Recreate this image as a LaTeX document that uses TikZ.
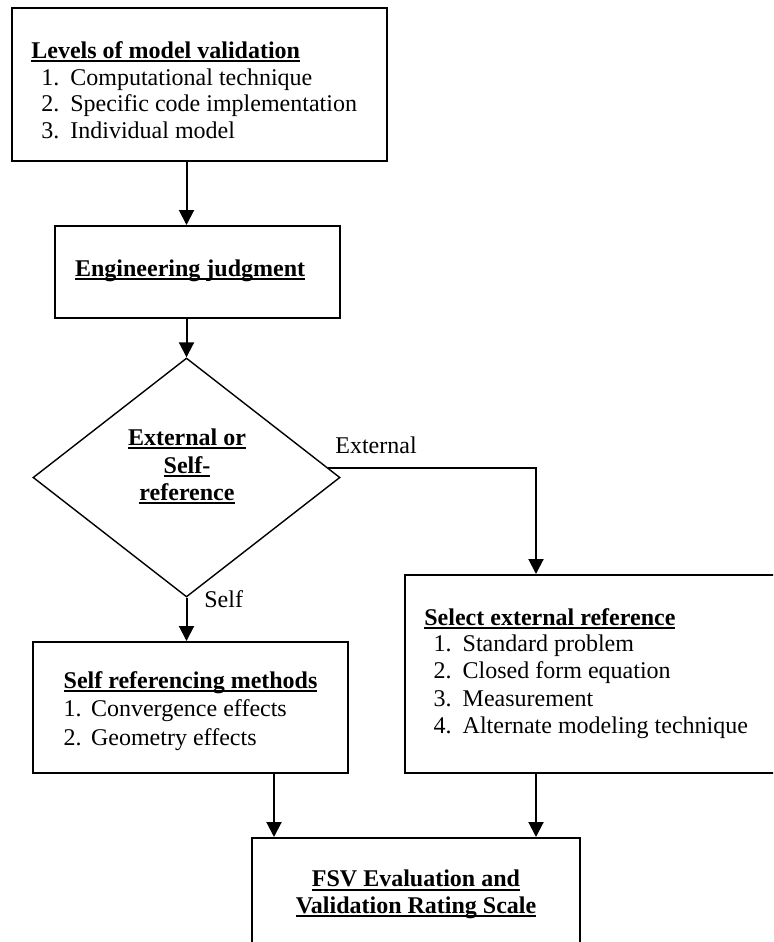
\documentclass[tikz,border=0pt]{standalone}
\usepackage{fontspec}
\setmainfont{Liberation Serif}
\usetikzlibrary{shapes.geometric,arrows.meta,calc}
\newcommand\myul[1]{\setbox0\hbox{\bfseries #1}\rlap{\rule[-1.9pt]{\wd0}{0.9pt}}\box0}
\begin{document}
\begin{tikzpicture}[x=0.5pt,y=-0.5pt,font=\fontsize{12}{14}\selectfont,
  box/.style={draw,line width=1pt,inner sep=0pt,rectangle},
  lbl/.style={inner sep=0pt,anchor=base west},
  ctr/.style={inner sep=0pt,anchor=base},
  arr/.style={line width=1pt,-{Triangle[length=7.5pt,width=7.5pt]}}]
\clip (0,0) rectangle (773,942);
% boxes
\node[box,minimum width=187.5pt,minimum height=76.5pt] (tb) at (199.5,84.5) {};
\node[box,minimum width=142.5pt,minimum height=46pt] (eb) at (197.5,272) {};
\node[draw,diamond,line width=0.7pt,inner sep=0pt,minimum width=153.5pt,minimum height=119.5pt] (dia) at (186.5,477.5) {};
\node[box,minimum width=192.5pt,minimum height=99pt] (rb) at (597.5,674) {};
\node[box,minimum width=157.5pt,minimum height=65.5pt] (lb) at (190.5,707.5) {};
\node[box,minimum width=164pt,minimum height=71pt] (bb) at (416,909) {};
% texts
\node[lbl] (tbt) at (31,58) {\myul{Levels of model validation}};
\node[lbl] (tb1) at (41,85) {\makebox[14.5pt][l]{1.}Computational technique};
\node[lbl] (tb2) at (41,111.5) {\makebox[14.5pt][l]{2.}Specific code implementation};
\node[lbl] (tb3) at (41,138) {\makebox[14.5pt][l]{3.}Individual model};
\node[lbl] (ebt) at (74.7,276) {\myul{Engineering judgment}};
\node[ctr] (d1) at (187,445) {\myul{External or}};
\node[ctr] (d2) at (187,473) {\myul{Self-}};
\node[ctr] (d3) at (187,500) {\myul{reference}};
\node[lbl] (extl) at (335,453) {External};
\node[lbl] (selfl) at (204,607) {Self};
\node[lbl] (rbt) at (424,625) {\myul{Select external reference}};
\node[lbl] (rb1) at (433.3,651.7) {\makebox[14.5pt][l]{1.}Standard problem};
\node[lbl] (rb2) at (433.3,678.5) {\makebox[14.5pt][l]{2.}Closed form equation};
\node[lbl] (rb3) at (433.3,706) {\makebox[14.5pt][l]{3.}Measurement};
\node[lbl] (rb4) at (433.3,733) {\makebox[14.5pt][l]{4.}Alternate modeling technique};
\node[lbl] (lbt) at (63.3,688) {\myul{Self referencing methods}};
\node[lbl] (lb1) at (63.3,716.7) {\makebox[13.7pt][l]{1.}Convergence effects};
\node[lbl] (lb2) at (63.3,745) {\makebox[13.7pt][l]{2.}Geometry effects};
\node[ctr] (bb1) at (416,886.7) {\myul{FSV Evaluation and}};
\node[ctr] (bb2) at (416,913) {\myul{Validation Rating Scale}};
% connectors
\coordinate (ep) at ($(dia.north)!0.917!(dia.east)$);
\coordinate (rtop) at ($(rb.north west)+(132,0)$);
\coordinate (p1) at ($(lb.south)+(83.5,0)$);
\coordinate (p2) at ($(rb.south west)+(132,0)$);
\draw[arr] (tb.south -| dia.north) -- (eb.north -| dia.north);
\draw[arr] (eb.south -| dia.north) -- (dia.north);
\draw[arr] (ep) -| (rtop);
\draw[arr] (dia.south) -- (lb.north -| dia.south);
\draw[arr] (p1) -- (p1 |- bb.north);
\draw[arr] (p2) -- (p2 |- bb.north);
\end{tikzpicture}
\end{document}
